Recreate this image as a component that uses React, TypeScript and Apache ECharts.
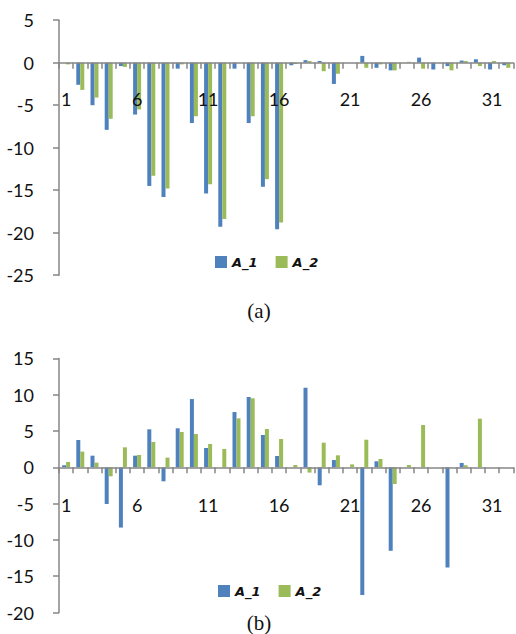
import React, { useEffect, useRef } from "react";
import * as echarts from "echarts";

const categories = Array.from({ length: 32 }, (_, i) => String(i + 1));

const a1Top = [0, -2.6, -5.0, -7.9, -0.4, -6.1, -14.5, -15.8, -0.7, -7.1, -15.4, -19.3, -0.7, -7.1, -14.6, -19.6, -0.3, 0.3, 0.2, -2.5, 0, 0.8, -0.6, -0.9, 0, 0.6, -0.8, -0.4, 0.25, 0.4, -0.8, -0.3];
const a2Top = [-0.2, -3.2, -4.1, -6.6, -0.5, -5.5, -13.3, -14.8, -0.2, -6.3, -14.3, -18.4, 0, -6.3, -13.7, -18.8, -0.15, 0.2, -1.0, -1.3, 0, -0.6, -0.2, -0.9, 0.1, -0.7, 0, -0.9, 0.2, -0.4, 0.2, -0.6];

const a1Bottom = [0.28, 3.76, 1.6, -5.05, -8.3, 1.6, 5.23, -1.93, 5.37, 9.4, 2.66, 0, 7.61, 9.68, 4.45, 1.56, 0, 10.96, -2.48, 1.0, 0, -17.6, 0.83, -11.5, 0, 0, 0, -13.8, 0.6, 0, 0, 0];
const a2Bottom = [0.73, 2.16, 0.64, -1.24, 2.75, 1.7, 3.49, 1.33, 4.86, 4.59, 3.21, 2.52, 6.74, 9.5, 5.28, 3.9, 0.32, -0.73, 3.39, 1.65, 0.4, 3.8, 1.15, -2.3, 0.32, 5.83, 0, 0, 0.28, 6.7, 0, 0];

const seriesNames = ["A_1", "A_2"];
const colors = ["#4F81BD", "#9BBB59"];

const topRange = { min: -25, max: 5 };
const bottomRange = { min: -20, max: 15 };

export default function App() {
  const ref = useRef<HTMLDivElement>(null);
  useEffect(() => {
    if (!ref.current) return;
    const chart = echarts.init(ref.current, null, { renderer: "svg" });
    const axisColor = "#868686";
    const labelFont = { fontFamily: "Lato", fontSize: 18, color: "#111" };
    const grids = [
      { left: 59, top: 20.2, width: 454.4, height: 255 },
      { left: 59, top: 358.4, width: 454.4, height: 254.1 },
    ];
    // offset of the category axis so that it sits on the zero line
    const zeroOffset = (g: { height: number }, r: { min: number; max: number }) =>
      -(g.height * (0 - r.min)) / (r.max - r.min);
    const xAxis = (gridIndex: number, margin: number, offset: number) => ({
      type: "category",
      gridIndex,
      data: categories,
      boundaryGap: true,
      position: "bottom",
      offset,
      axisLine: { onZero: false, lineStyle: { color: axisColor, width: 1.5 } },
      axisTick: { show: true, interval: 0, length: 6, lineStyle: { color: axisColor, width: 1.5 } },
      axisLabel: { interval: 4, margin, ...labelFont },
      splitLine: { show: false },
      z: 5,
    });
    const yAxis = (gridIndex: number, min: number, max: number) => ({
      type: "value",
      gridIndex,
      min,
      max,
      interval: 5,
      axisLine: { show: true, lineStyle: { color: axisColor, width: 1.5 } },
      axisTick: { show: true, length: 6, lineStyle: { color: axisColor, width: 1.5 } },
      axisLabel: { margin: 25, ...labelFont },
      splitLine: { show: false },
    });
    const bar = (name: string, data: number[], idx: number, color: string) => ({
      type: "bar",
      name,
      data,
      xAxisIndex: idx,
      yAxisIndex: idx,
      barWidth: 4,
      barGap: "0%",
      itemStyle: { color },
    });
    const legend = (left: number, top: number) => ({
      data: seriesNames,
      left,
      top,
      orient: "horizontal",
      icon: "rect",
      itemWidth: 12,
      itemHeight: 12,
      itemGap: 18,
      textStyle: { fontFamily: "DejaVu Sans", fontStyle: "italic", fontWeight: "bold", fontSize: 13, color: "#111" },
    });
    chart.setOption({
      animation: false,
      backgroundColor: "#ffffff",
      grid: grids,
      xAxis: [
        xAxis(0, 27.5, zeroOffset(grids[0], topRange)),
        xAxis(1, 28.5, zeroOffset(grids[1], bottomRange)),
      ],
      yAxis: [yAxis(0, topRange.min, topRange.max), yAxis(1, bottomRange.min, bottomRange.max)],
      legend: [legend(210, 250.5), legend(213, 579.5)],
      series: [
        bar(seriesNames[0], a1Top, 0, colors[0]),
        bar(seriesNames[1], a2Top, 0, colors[1]),
        bar(seriesNames[0], a1Bottom, 1, colors[0]),
        bar(seriesNames[1], a2Bottom, 1, colors[1]),
      ],
      graphic: [
        {
          type: "text",
          x: 259,
          y: 311,
          style: { text: "(a)", fontFamily: "Liberation Serif", fontSize: 21, fill: "#111", textAlign: "center", textVerticalAlign: "middle" },
        },
        {
          type: "text",
          x: 259,
          y: 623,
          style: { text: "(b)", fontFamily: "Liberation Serif", fontSize: 21, fill: "#111", textAlign: "center", textVerticalAlign: "middle" },
        },
      ],
    });
    return () => chart.dispose();
  }, []);
  return <div ref={ref} style={{ position: "absolute", left: 0, top: 0, width: 516, height: 634 }} />;
}
